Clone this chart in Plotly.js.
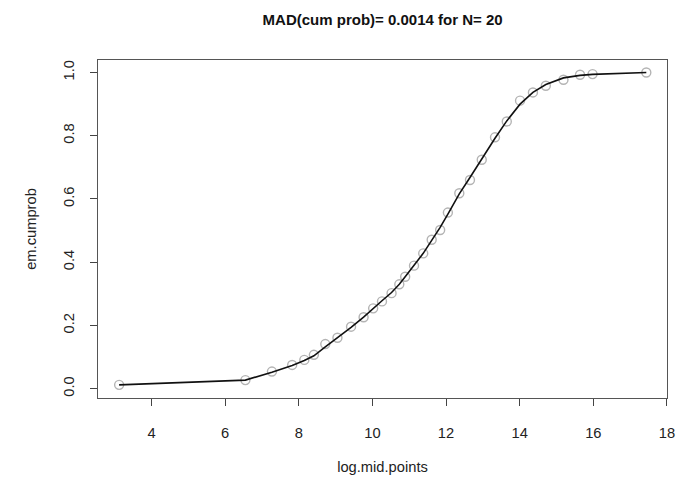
<!DOCTYPE html>
<html>
<head>
<meta charset="utf-8">
<script src="https://cdn.plot.ly/plotly-3.0.1.min.js"></script>
<style>html,body{margin:0;padding:0;background:#fff;}#chart{width:679px;height:482px;}</style>
</head>
<body>
<div id="chart"></div>
<script>
const logMidPoints = [3.12, 6.55, 7.27, 7.82, 8.15, 8.41, 8.72, 9.05, 9.42, 9.76, 10.02, 10.26, 10.52, 10.73, 10.89, 11.13, 11.38, 11.61, 11.84, 12.05, 12.36, 12.65, 12.97, 13.33, 13.65, 14.01, 14.36, 14.71, 15.19, 15.64, 15.98, 17.44];
const emCumprob = [0.012, 0.027, 0.054, 0.075, 0.091, 0.107, 0.141, 0.161, 0.196, 0.226, 0.254, 0.276, 0.302, 0.330, 0.354, 0.389, 0.428, 0.471, 0.502, 0.557, 0.618, 0.660, 0.724, 0.795, 0.845, 0.911, 0.937, 0.958, 0.977, 0.993, 0.995, 1.000];
const fitCumprob = [0.012, 0.027, 0.052, 0.073, 0.089, 0.104, 0.132, 0.160, 0.194, 0.226, 0.254, 0.278, 0.304, 0.330, 0.354, 0.389, 0.428, 0.469, 0.510, 0.552, 0.616, 0.668, 0.728, 0.792, 0.847, 0.900, 0.937, 0.962, 0.983, 0.991, 0.994, 1.000];
const xTicks = [4, 6, 8, 10, 12, 14, 16, 18];
const yTicks = [0.0, 0.2, 0.4, 0.6, 0.8, 1.0];
const yTickText = ["0.0", "0.2", "0.4", "0.6", "0.8", "1.0"];

const traces = [
  {x: logMidPoints, y: emCumprob, mode: 'markers', type: 'scatter',
   marker: {symbol: 'circle-open', size: 9, color: '#b4b4b4', line: {width: 1.4, color: '#b4b4b4'}}, hoverinfo: 'x+y'},
  {x: logMidPoints, y: fitCumprob, mode: 'lines', type: 'scatter',
   line: {color: '#111', width: 1.6}, hoverinfo: 'x+y'}
];
const fam = 'Liberation Sans, Arial, sans-serif';
const layout = {
  width: 679, height: 482,
  margin: {l: 98, r: 12, t: 60, b: 84},
  paper_bgcolor: '#fff', plot_bgcolor: '#fff',
  showlegend: false,
  font: {family: fam, size: 14.7, color: '#222'},
  title: {text: 'MAD(cum prob)= 0.0014 for N= 20', x: 0.5635, xanchor: 'center', y: 0.958, yanchor: 'middle',
          font: {family: fam, size: 15, color: '#111', weight: 'bold'}},
  xaxis: {range: [2.546, 18.002], autorange: false, tickmode: 'array', tickvals: xTicks,
          ticks: 'outside', ticklen: 7, tickcolor: '#444', tickwidth: 1,
          showline: true, linecolor: '#555', linewidth: 1.2, mirror: true,
          showgrid: false, zeroline: false, ticklabelstandoff: 14,
          tickfont: {family: fam, size: 14.7, color: '#222'},
          title: {text: 'log.mid.points', standoff: 21, font: {family: fam, size: 14.7, color: '#222'}}},
  yaxis: {range: [-0.0296, 1.0396], autorange: false, tickmode: 'array', tickvals: yTicks, ticktext: yTickText,
          tickangle: -90,
          ticks: 'outside', ticklen: 7, tickcolor: '#444', tickwidth: 1,
          showline: true, linecolor: '#555', linewidth: 1.2, mirror: true,
          showgrid: false, zeroline: false, ticklabelstandoff: 10,
          tickfont: {family: fam, size: 14.7, color: '#222'},
          title: {text: 'em.cumprob', standoff: 20, font: {family: fam, size: 14.7, color: '#222'}}}
};
Plotly.newPlot('chart', traces, layout, {displayModeBar: false, staticPlot: true});
</script>
</body>
</html>
